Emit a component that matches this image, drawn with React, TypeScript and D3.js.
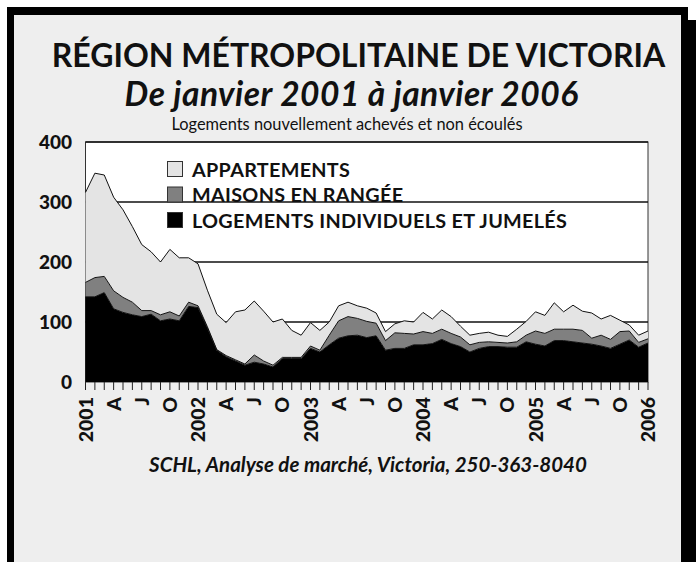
import * as d3 from 'd3'

const W = 696
const H = 562

// monthly values, Jan 2001 .. Jan 2006 (61 months)
const LOGEMENTS = [142, 142, 149, 122, 116, 112, 109, 113, 102, 105, 102, 126, 124, 90, 53, 42, 35, 28, 33, 30, 25, 39, 39, 39, 56, 50, 62, 73, 77, 78, 74, 77, 53, 56, 56, 62, 62, 64, 71, 64, 59, 50, 56, 59, 59, 58, 58, 67, 63, 60, 69, 69, 67, 65, 63, 60, 56, 63, 70, 58, 65]
const MAISONS = [24, 32, 27, 30, 25, 21, 10, 6, 10, 12, 8, 7, 3, 2, 1, 2, 2, 2, 12, 5, 3, 2, 2, 2, 4, 3, 16, 29, 32, 28, 27, 21, 16, 26, 25, 18, 22, 17, 17, 17, 16, 12, 10, 8, 7, 7, 9, 11, 22, 21, 19, 19, 21, 21, 10, 18, 15, 21, 15, 8, 7]
const APPARTEMENTS = [150, 174, 169, 156, 146, 126, 110, 98, 88, 104, 97, 74, 70, 61, 59, 55, 80, 90, 90, 83, 72, 64, 45, 37, 39, 33, 22, 25, 24, 21, 22, 17, 15, 15, 21, 20, 32, 24, 32, 28, 18, 16, 15, 16, 12, 11, 21, 23, 32, 30, 44, 29, 40, 32, 42, 27, 40, 19, 10, 12, 13]

const X_LABELS = ['2001', 'A', 'J', 'O', '2002', 'A', 'J', 'O', '2003', 'A', 'J', 'O', '2004', 'A', 'J', 'O', '2005', 'A', 'J', 'O', '2006']
const Y_TICKS = [0, 100, 200, 300, 400]
const GRID = [100, 200, 300]

const KEYS = ['logements', 'maisons', 'appartements']
const FILLS: Record<string, string> = { logements: '#000000', maisons: '#808080', appartements: '#e4e4e4' }
const LEGEND = [
  { key: 'appartements', label: 'APPARTEMENTS' },
  { key: 'maisons', label: 'MAISONS EN RANGÉE' },
  { key: 'logements', label: 'LOGEMENTS INDIVIDUELS ET JUMELÉS' },
]

const FONT = 'Lato, "Open Sans", sans-serif'

export default function App() {
  const rows = LOGEMENTS.map((v, i) => ({ i, logements: v, maisons: MAISONS[i], appartements: APPARTEMENTS[i] }))
  const stacked = d3.stack<any>().keys(KEYS)(rows)

  const x = d3.scaleLinear().domain([0, rows.length - 1]).range([85.5, 648])
  const y = d3.scaleLinear().domain([0, 400]).range([382, 142])

  const area = d3.area<any>().x((d, i) => x(i)).y0(d => y(d[0])).y1(d => y(d[1]))
  const topLine = d3.line<any>().x((d, i) => x(i)).y(d => y(d[1]))

  const [x0, x1] = x.range()
  const [yb, yt] = y.range()

  return (
    <div style={{ position: 'fixed', left: 0, top: 0 }}>
      <svg width={W} height={H} style={{ display: 'block' }}>
        <rect width={W} height={H} fill="#ffffff" />
        {/* frame with shadow */}
        <rect x={688} y={20} width={8} height={H} fill="#000" />
        <rect x={7} y={7} width={681} height={H} fill="#000" />
        <rect x={14} y={15} width={667} height={H} fill="#eeeeee" />

        <text x={358.5} y={67} textAnchor="middle" fontFamily={FONT} fontWeight={700} fontSize={32} fill="#111">
          RÉGION MÉTROPOLITAINE DE VICTORIA
        </text>
        <text x={351.5} y={106} textAnchor="middle" fontFamily={FONT} fontWeight={700} fontStyle="italic" fontSize={33.5} letterSpacing={0.5} fill="#111">
          De janvier 2001 à janvier 2006
        </text>
        <text x={347} y={129.5} textAnchor="middle" fontFamily={FONT} fontSize={16.4} fill="#111">
          Logements nouvellement achevés et non écoulés
        </text>

        {/* plot */}
        <rect x={x0} y={yt} width={x1 - x0} height={yb - yt} fill="#ffffff" stroke="#333" strokeWidth={1} />
        {GRID.map(v => (
          <line key={v} x1={x0} x2={x1} y1={y(v)} y2={y(v)} stroke="#111" strokeWidth={1.5} />
        ))}
        {stacked.map(s => (
          <path key={s.key} d={area(s) || ''} fill={FILLS[s.key]} />
        ))}
        {stacked.map(s => (
          <path key={s.key + '-l'} d={topLine(s) || ''} fill="none" stroke="#111" strokeWidth={1} />
        ))}
        <line x1={x0} x2={x1} y1={yt} y2={yt} stroke="#111" strokeWidth={1.5} />

        {/* legend */}
        {LEGEND.map((l, i) => (
          <g key={l.key} transform={`translate(167,${161 + i * 25.5})`}>
            <rect x={0.5} y={0.5} width={15} height={15} fill={FILLS[l.key]} stroke="#333" strokeWidth={1} />
            <text x={25} y={15.5} fontFamily={FONT} fontWeight={700} fontSize={19.8} letterSpacing={0.3} fill="#111">{l.label}</text>
          </g>
        ))}

        {/* y axis */}
        {Y_TICKS.map(v => (
          <text key={v} x={72} y={y(v) + 7} textAnchor="end" fontFamily={FONT} fontWeight={900} fontSize={19} fill="#111">{v}</text>
        ))}

        {/* x axis */}
        {rows.map(r => (
          <line key={r.i} x1={x(r.i)} x2={x(r.i)} y1={yb} y2={yb + 8} stroke="#222" strokeWidth={1} />
        ))}
        {X_LABELS.map((t, k) => (
          <text key={k} transform={`translate(${x(k * 3) + 7},397) rotate(-90)`} textAnchor="end"
            fontFamily={FONT} fontWeight={900} fontSize={19.5} fill="#111">{t}</text>
        ))}

        <text x={368} y={472} textAnchor="middle" fontFamily={FONT} fontWeight={700} fontStyle="italic" fontSize={20.5} fill="#111">
          SCHL, Analyse de marché, Victoria, 250-363-8040
        </text>
      </svg>
    </div>
  )
}
